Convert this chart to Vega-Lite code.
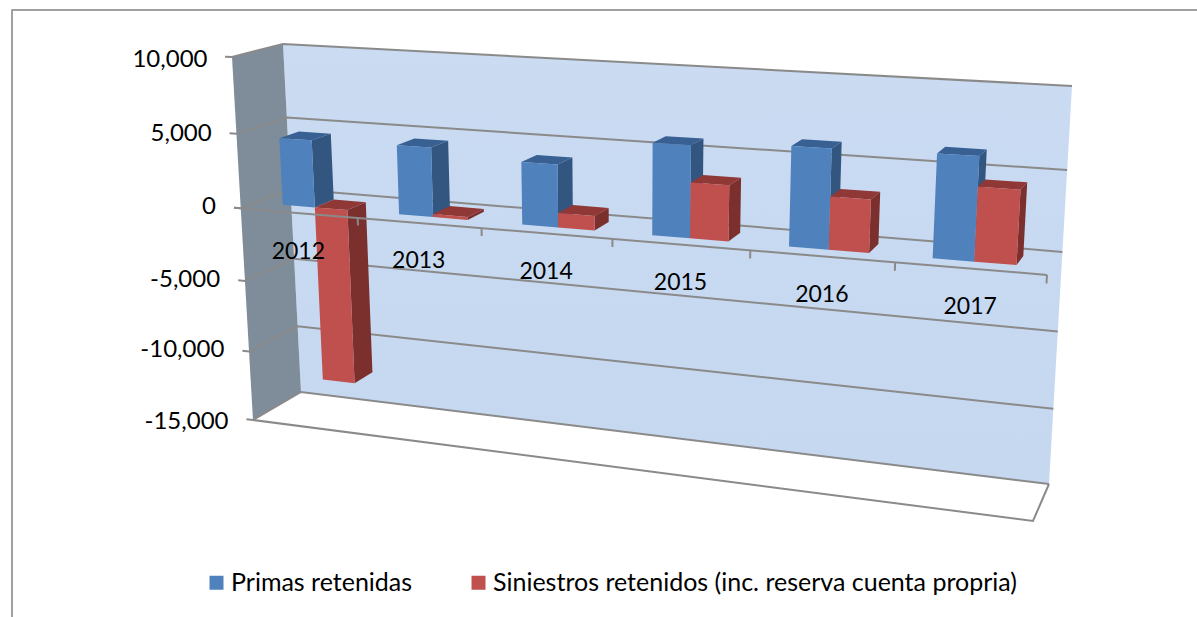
{
"$schema":"https://vega.github.io/schema/vega-lite/v6.json",
"width":1197,"height":617,"padding":0,"autosize":{"type":"none"},"background":"white",
"config":{"view":{"stroke":null}},
"resolve":{"scale":{"y":"independent","x":"independent"}},
"layer":[
{
"data":{"values":[{"a":0,"b":0},{"a":1,"b":1}]},
"mark":{"type":"point","size":0},
"encoding":{
"x":{"field":"a","type":"quantitative","scale":{"domain":[0,1],"range":[11,1197],"nice":false,"zero":false},"axis":{"orient":"top","offset":-9.5,"domain":true,"domainColor":"#a0a0a0","domainWidth":2,"ticks":false,"labels":false,"grid":false,"title":null}},
"y":{"field":"b","type":"quantitative","scale":{"domain":[0,1],"range":[617,9],"nice":false,"zero":false},"axis":{"orient":"left","offset":-11.5,"domain":true,"domainColor":"#a0a0a0","domainWidth":2,"ticks":false,"labels":false,"grid":false,"title":null}}
}
},
{
"data":{"values":[
{"kind":"bar","year":2012,"series":"Primas retenidas","value":4500},
{"kind":"bar","year":2013,"series":"Primas retenidas","value":4560},
{"kind":"bar","year":2014,"series":"Primas retenidas","value":4030},
{"kind":"bar","year":2015,"series":"Primas retenidas","value":5800},
{"kind":"bar","year":2016,"series":"Primas retenidas","value":6150},
{"kind":"bar","year":2017,"series":"Primas retenidas","value":6250},
{"kind":"bar","year":2012,"series":"Siniestros retenidos (inc. reserva cuenta propria)","value":-12100},
{"kind":"bar","year":2013,"series":"Siniestros retenidos (inc. reserva cuenta propria)","value":200},
{"kind":"bar","year":2014,"series":"Siniestros retenidos (inc. reserva cuenta propria)","value":930},
{"kind":"bar","year":2015,"series":"Siniestros retenidos (inc. reserva cuenta propria)","value":3500},
{"kind":"bar","year":2016,"series":"Siniestros retenidos (inc. reserva cuenta propria)","value":3250},
{"kind":"bar","year":2017,"series":"Siniestros retenidos (inc. reserva cuenta propria)","value":4450},
{"kind":"frame","shape":"back","pts":[[0,0,10000,1],[1,1,10000,1],[2,1,-15000,1],[3,0,-15000,1]]},
{"kind":"frame","shape":"left","pts":[[0,0,10000,0],[1,0,10000,1],[2,0,-15000,1],[3,0,-15000,0]]},
{"kind":"frame","shape":"floor","pts":[[0,0,-15000,0],[1,1,-15000,0],[2,1,-15000,1],[3,0,-15000,1]]},
{"kind":"frame","shape":"grid10000","pts":[[0,-0.01,10000,0],[1,0,10000,0],[2,0,10000,1],[3,1,10000,1]]},
{"kind":"frame","shape":"grid5000","pts":[[0,-0.01,5000,0],[1,0,5000,0],[2,0,5000,1],[3,1,5000,1]]},
{"kind":"frame","shape":"grid0","pts":[[0,-0.01,0,0],[1,0,0,0],[2,0,0,1],[3,1,0,1]]},
{"kind":"frame","shape":"grid-5000","pts":[[0,-0.01,-5000,0],[1,0,-5000,0],[2,0,-5000,1],[3,1,-5000,1]]},
{"kind":"frame","shape":"grid-10000","pts":[[0,-0.01,-10000,0],[1,0,-10000,0],[2,0,-10000,1],[3,1,-10000,1]]},
{"kind":"frame","shape":"grid-15000","pts":[[0,-0.01,-15000,0],[1,0,-15000,0],[2,0,-15000,1],[3,1,-15000,1]]},
{"kind":"frame","shape":"floorfront","pts":[[0,0,-15000,0],[1,1,-15000,0],[2,1,-15000,1]]},
{"kind":"frame","shape":"axis","pts":[[0,-0.01,0,0],[1,1,0,0]]},
{"kind":"frame","shape":"tick1","pts":[[0,0.16667,0,0],[1,0.16667,-500,0]]},
{"kind":"frame","shape":"tick2","pts":[[0,0.33333,0,0],[1,0.33333,-500,0]]},
{"kind":"frame","shape":"tick3","pts":[[0,0.5,0,0],[1,0.5,-500,0]]},
{"kind":"frame","shape":"tick4","pts":[[0,0.66667,0,0],[1,0.66667,-500,0]]},
{"kind":"frame","shape":"tick5","pts":[[0,0.83333,0,0],[1,0.83333,-500,0]]},
{"kind":"frame","shape":"tick6","pts":[[0,1,0,0],[1,1,-500,0]]},
{"kind":"label","shape":"label","label":"2012","pts":[[0,0.08333,0,0]]},
{"kind":"label","shape":"label","label":"2013","pts":[[0,0.25,0,0]]},
{"kind":"label","shape":"label","label":"2014","pts":[[0,0.41667,0,0]]},
{"kind":"label","shape":"label","label":"2015","pts":[[0,0.58333,0,0]]},
{"kind":"label","shape":"label","label":"2016","pts":[[0,0.75,0,0]]},
{"kind":"label","shape":"label","label":"2017","pts":[[0,0.91667,0,0]]}
]},
"transform":[
{"calculate":"datum.kind=='bar'?((datum.year-2012)*0.994+(datum.series=='Primas retenidas'?0.24:0.52))/6:0","as":"t0"},
{"calculate":"datum.t0+0.28/6","as":"t1"},
{"calculate":"max(0,datum.value||0)","as":"topv"},
{"calculate":"datum.kind=='bar'?[[0,datum.t0,0,0.3,'front'],[1,datum.t1,0,0.3,'front'],[2,datum.t1,datum.value,0.3,'front'],[3,datum.t0,datum.value,0.3,'front'],[0,datum.t1,0,0.3,'side'],[1,datum.t1,0,0.7,'side'],[2,datum.t1,datum.value,0.7,'side'],[3,datum.t1,datum.value,0.3,'side'],[0,datum.t0,datum.topv,0.3,'top'],[1,datum.t1,datum.topv,0.3,'top'],[2,datum.t1,datum.topv,0.7,'top'],[3,datum.t0,datum.topv,0.7,'top']]:datum.pts","as":"verts"},
{"flatten":["verts"]},
{"calculate":"datum.verts[0]","as":"k"},
{"calculate":"datum.verts[1]","as":"t"},
{"calculate":"datum.verts[2]","as":"v"},
{"calculate":"datum.verts[3]","as":"d"},
{"calculate":"datum.kind=='bar'?datum.verts[4]:datum.shape","as":"face"},
{"calculate":"datum.kind=='bar'?datum.year+datum.series+datum.face:datum.shape+(datum.label||'')","as":"poly"},
{"calculate":"0.844*datum.t+0.156*datum.t*datum.t","as":"u"},
{"calculate":"(10000-datum.v)/25000","as":"s0"},
{"calculate":"datum.s0+0.07*datum.s0*(1-datum.s0)","as":"s"},
{"calculate":"(1-datum.d)*((232+21*datum.s)*(1-datum.u)+(1057-24*datum.s)*datum.u)+datum.d*((283+18*datum.s)*(1-datum.u)+(1072-23*datum.s)*datum.u)","as":"px"},
{"calculate":"(1-datum.d)*((57+363*datum.s)*(1-datum.u)+(99+422*datum.s)*datum.u)+datum.d*((44+348*datum.s)*(1-datum.u)+(86+398*datum.s)*datum.u)","as":"py"}
],
"encoding":{
"x":{"field":"px","type":"quantitative","scale":{"domain":[0,1197],"nice":false,"zero":false},"axis":null},
"y":{"field":"py","type":"quantitative","scale":{"domain":[0,617],"range":[0,617],"nice":false,"zero":false},"axis":null},
"order":{"field":"k","type":"quantitative"},
"detail":{"field":"poly","type":"nominal"}
},
"layer":[
{"transform":[{"filter":"datum.face=='back'"}],"mark":{"type":"line","fill":{"x1":0,"y1":0,"x2":0,"y2":1,"gradient":"linear","stops":[{"offset":0,"color":"#cadbf2"},{"offset":1,"color":"#c5d8f0"}]},"stroke":"transparent"}},
{"transform":[{"filter":"datum.face=='left'"}],"mark":{"type":"line","fill":"#7f8d9a","stroke":"transparent"}},
{"transform":[{"filter":"datum.face=='floor'"}],"mark":{"type":"line","fill":"#ffffff","stroke":"transparent"}},
{"transform":[{"filter":"indexof(datum.face,'grid')==0"}],"mark":{"type":"line","stroke":"#8a8a8a","strokeWidth":2}},
{"transform":[{"filter":"datum.face=='floorfront'"}],"mark":{"type":"line","stroke":"#8a8a8a","strokeWidth":2}},
{"transform":[{"filter":"datum.face=='side'&&datum.series=='Primas retenidas'"}],"mark":{"type":"line","fill":"#32567f","stroke":"transparent"}},
{"transform":[{"filter":"datum.face=='top'&&datum.series=='Primas retenidas'"}],"mark":{"type":"line","fill":"#386093","stroke":"transparent"}},
{"transform":[{"filter":"datum.face=='side'&&datum.series!='Primas retenidas'"}],"mark":{"type":"line","fill":"#7c302e","stroke":"transparent"}},
{"transform":[{"filter":"datum.face=='top'&&datum.series!='Primas retenidas'"}],"mark":{"type":"line","fill":"#8f3836","stroke":"transparent"}},
{"transform":[{"filter":"datum.face=='front'&&datum.series=='Primas retenidas'"}],"mark":{"type":"line","fill":"#4f81bd","stroke":"transparent"}},
{"transform":[{"filter":"datum.face=='front'&&datum.series!='Primas retenidas'"}],"mark":{"type":"line","fill":"#c0504d","stroke":"transparent"}},
{"transform":[{"filter":"datum.face=='axis'||indexof(datum.face,'tick')==0"}],"mark":{"type":"line","stroke":"#8a8a8a","strokeWidth":2}},
{"transform":[{"filter":"datum.kind=='label'"}],"mark":{"type":"text","font":"Lato","fontSize":23,"dy":38.5,"color":"black"},"encoding":{"text":{"field":"label","type":"nominal"}}},
{"transform":[{"filter":"datum.face=='front'"}],"mark":{"type":"point","filled":true,"size":0,"shape":"square"},
"encoding":{"fill":{"field":"series","type":"nominal","scale":{"domain":["Primas retenidas","Siniestros retenidos (inc. reserva cuenta propria)"],"range":["#4f81bd","#c0504d"]},
"legend":{"orient":"none","legendX":204,"legendY":570,"direction":"horizontal","title":null,"symbolType":"square","symbolSize":196,"labelFont":"Lato","labelFontSize":25,"labelColor":"black","columnPadding":53,"labelOffset":2,"labelLimit":900,"symbolOpacity":1,"symbolStrokeWidth":0}}}}
]
},
{
"data":{"values":[{"value":-15000},{"value":-10000},{"value":-5000},{"value":0},{"value":5000},{"value":10000}]},
"mark":{"type":"point","size":0},
"encoding":{
"y":{"field":"value","type":"quantitative","scale":{"domain":[-15000,-10000,-5000,0,5000,10000],"range":[421,349,279,206,133,59],"nice":false,"zero":false},
"axis":{"orient":"left","offset":-207,"values":[-15000,-10000,-5000,0,5000,10000],"labelExpr":"(datum.value<0?'-':'')+format(abs(datum.value),',.0f')","title":null,"domain":false,"ticks":false,"grid":false,"labelPadding":0,"labelFont":"Lato","labelFontSize":24,"labelColor":"black","encoding":{"labels":{"dx":{"value":{"expr":"(10000-datum.value)/25000*21"}}}}}}
}
}
]
}
